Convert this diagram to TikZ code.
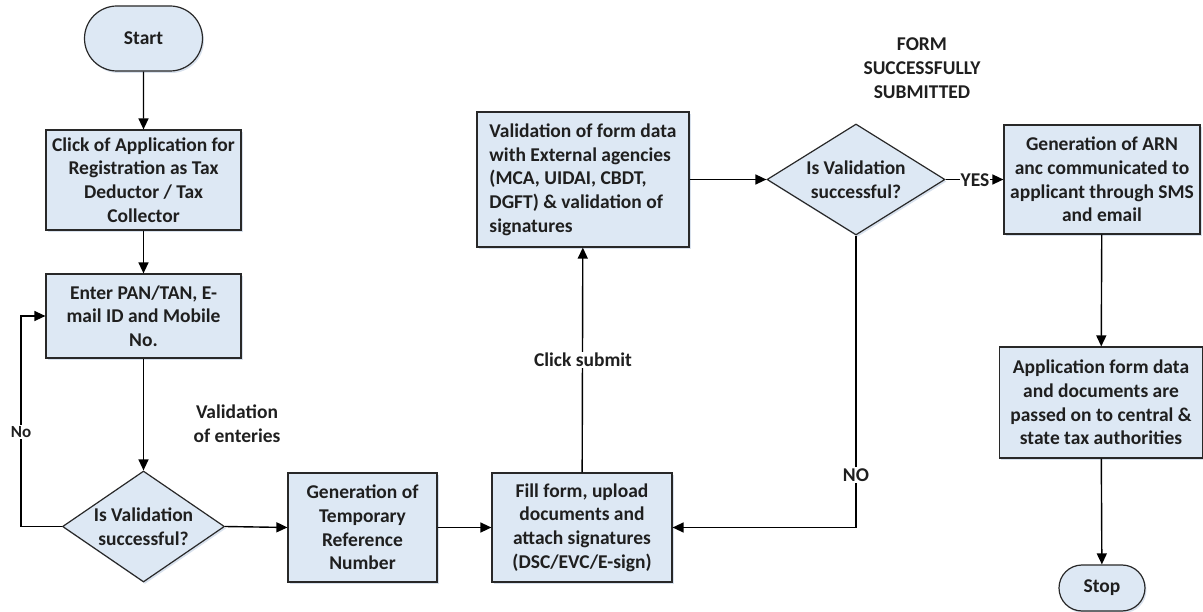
\documentclass[tikz,border=0pt]{standalone}
\usepackage{fontspec}
\setmainfont{Carlito}
\usetikzlibrary{shapes.geometric,shapes.misc,arrows.meta,shadows}
\definecolor{boxblue}{RGB}{221,232,244}
\definecolor{edgecol}{RGB}{40,40,40}
\definecolor{shadcol}{RGB}{190,205,225}
\begin{document}
\begin{tikzpicture}[x=1pt,y=-1pt,
  every node/.style={font=\bfseries\fontsize{19.5}{23.7}\selectfont, text=black!88},
  shapebase/.style={draw=edgecol, line width=1.2pt, fill=boxblue, inner sep=0pt,
    drop shadow={shadow xshift=1.5pt, shadow yshift=-2pt, fill=shadcol, opacity=0.6}},
  box/.style={shapebase, rectangle, align=center},
  term/.style={shapebase, rounded rectangle},
  dia/.style={shapebase, diamond},
  lbl/.style={fill=white, inner sep=1.5pt, align=center},
  txt/.style={inner sep=0pt, align=center},
  arr/.style={line width=1.4pt, draw=black, -{Triangle[length=11pt,width=10pt]}},
  ln/.style={line width=1.4pt, draw=black}]
\useasboundingbox (0,0) rectangle (1203,612);

% left column
\node[term, minimum width=118pt, minimum height=65pt] (start) at (143.5,38.5) {Start};
\node[box, minimum width=195pt, minimum height=100pt] (click) at (143.5,180)
  {Click of Application for\\Registration as Tax\\Deductor / Tax\\Collector};
\node[box, minimum width=195pt, minimum height=84pt] (enter) at (143.5,316)
  {Enter PAN/TAN, E-\\mail ID and Mobile\\No.};
\node[dia, minimum width=162pt, minimum height=111pt] (d1) at (143.5,526.5) {};
\node[txt] (d1t) at (d1) {Is Validation\\successful?};
\coordinate (noL) at (21,526.5);

% bottom row
\node[box, minimum width=149pt, minimum height=109pt] (trn) at (362.5,527.5)
  {Generation of\\Temporary\\Reference\\Number};
\node[box, minimum width=180pt, minimum height=109pt] (fill) at (582,527.5)
  {Fill form, upload\\documents and\\attach signatures\\(DSC/EVC/E-sign)};

% middle top
\node[box, align=left, minimum width=212pt, minimum height=135pt] (valid) at (583,179.5)
  {Validation of form data\\with External agencies\\(MCA, UIDAI, CBDT,\\DGFT) \& validation of\\signatures};
\node[dia, minimum width=178pt, minimum height=111pt] (d2) at (856,179.5) {};
\node[txt] (d2t) at (d2) {Is Validation\\successful?};

% right column
\node[box, minimum width=196pt, minimum height=109pt] (arn) at (1102,179.5)
  {Generation of ARN\\anc communicated to\\applicant through SMS\\and email};
\node[box, minimum width=203pt, minimum height=111pt] (app) at (1101,402.5)
  {Application form data\\and documents are\\passed on to central \&\\state tax authorities};
\node[term, minimum width=86pt, minimum height=46pt] (stop) at (1102,588) {Stop};

% connectors
\draw[arr] (start) -- (click);
\draw[arr] (click) -- (enter);
\draw[arr] (enter) -- (d1);
\draw[arr] (d1.west) -- (noL) |- (enter.west);
\draw[arr] (d1.east) -- (trn.west);
\draw[arr] (trn) -- (fill);
\draw[arr] (fill) -- (valid);
\draw[arr] (valid.east) -- (d2.west);
\draw[arr] (d2.south) |- (fill.east);
\draw[arr] (d2.east) -- (arn.west);
\draw[arr] (arn) -- (app);
\draw[arr] (app) -- (stop);

% labels
\node[lbl, font=\bfseries\fontsize{17}{20}\selectfont] (lno) at (21,432) {No};
\node[txt] (lval) at (237,424) {Validation\\of enteries};
\node[lbl] (lclick) at (583,360) {Click submit};
\node[lbl] (lNO) at (856,475) {NO};
\node[lbl, inner sep=1pt] (lyes) at (975,180) {YES};
\node[txt] (lform) at (922,68) {FORM\\SUCCESSFULLY\\SUBMITTED};
\end{tikzpicture}
\end{document}
